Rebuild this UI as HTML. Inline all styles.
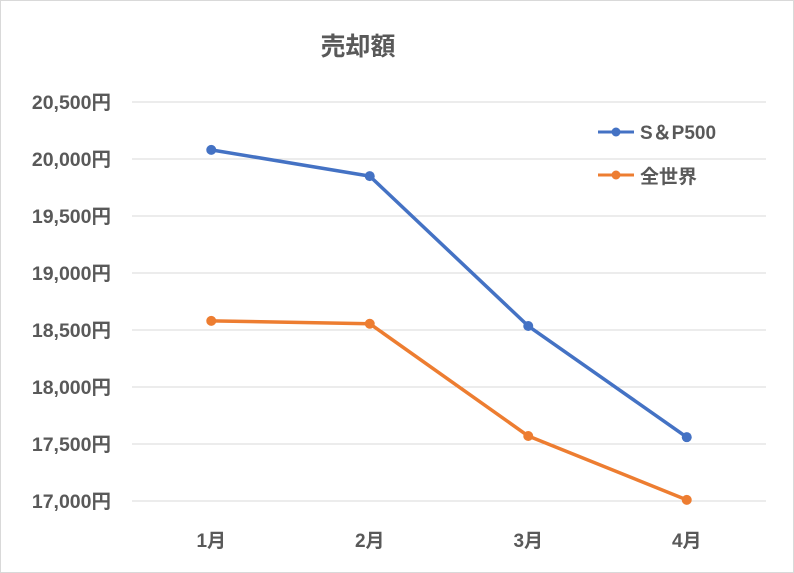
<!DOCTYPE html>
<html><head><meta charset="utf-8">
<style>
html,body{margin:0;padding:0;background:#fff;}
svg{display:block;font-family:"Liberation Sans","Noto Sans CJK JP",sans-serif;}
</style></head>
<body>
<svg id="chart" width="794" height="573" viewBox="0 0 794 573">
<rect x="0.5" y="0.5" width="793" height="572" fill="#fff" stroke="#d9d9d9"/>
<text x="358" y="55" text-anchor="middle" font-size="25" font-weight="bold" fill="#595959">売却額</text>
<g id="grid"></g><g id="yticks"></g><g id="xticks"></g><g id="series"></g>
<g>
<g>
<line x1="598" y1="132" x2="634" y2="132" stroke="#4472c4" stroke-width="3"/>
<circle cx="616" cy="132" r="4.5" fill="#4472c4"/>
<text x="640" y="139" font-size="19" font-weight="bold" fill="#595959">S＆P500</text></g>
<g>
<line x1="598" y1="175" x2="634" y2="175" stroke="#ed7d31" stroke-width="3"/>
<circle cx="616" cy="175" r="4.5" fill="#ed7d31"/>
<text x="640" y="183" font-size="19" font-weight="bold" fill="#595959">全世界</text></g>
</g>
</svg>
<script>
const categories=["1月","2月","3月","4月"];
const sp500=[20080,19850,18535,17560];
const world=[18580,18555,17570,17010];
const yTicks=[17000,17500,18000,18500,19000,19500,20000,20500];
const NS="http://www.w3.org/2000/svg";
const X0=132,X1=766,Y0=501,Y1=102,YMIN=17000,YMAX=20500;
function xs(i){return X0+(i+0.5)*(X1-X0)/categories.length;}
function ys(v){return Y0-(v-YMIN)/(YMAX-YMIN)*(Y0-Y1);}
function mk(t,a,p){const e=document.createElementNS(NS,t);for(const k in a)e.setAttribute(k,a[k]);p.appendChild(e);return e;}
const grid=document.getElementById('grid'),yt=document.getElementById('yticks'),xt=document.getElementById('xticks'),se=document.getElementById('series');
yTicks.forEach(v=>{
 const l=mk('line',{x1:X0,x2:X1,y1:ys(v),y2:ys(v),stroke:'#d9d9d9','stroke-width':1},grid);
 
 
 const t=mk('text',{x:111,y:ys(v)+7,'text-anchor':'end','font-size':19.5,'font-weight':'bold',fill:'#595959'},yt);
 t.textContent=v.toLocaleString('en-US')+'円';
 
 
});
categories.forEach((c,i)=>{
 const t=mk('text',{x:xs(i),y:547,'text-anchor':'middle','font-size':19,'font-weight':'bold',fill:'#595959'},xt);
 t.textContent=c;
 
 
});
function draw(data,color,name){
 const g=mk('g',{},se);
 
 
 const p=mk('polyline',{points:data.map((v,i)=>xs(i)+','+ys(v)).join(' '),fill:'none',stroke:color,'stroke-width':3.5,'stroke-linejoin':'round'},g);
 
 
 data.forEach((v,i)=>{
  const c=mk('circle',{cx:xs(i),cy:ys(v),r:5,fill:color},g);
  
  
 });
}
draw(sp500,'#4472c4','series-sp500');
draw(world,'#ed7d31','series-world');
</script>
</body></html>
